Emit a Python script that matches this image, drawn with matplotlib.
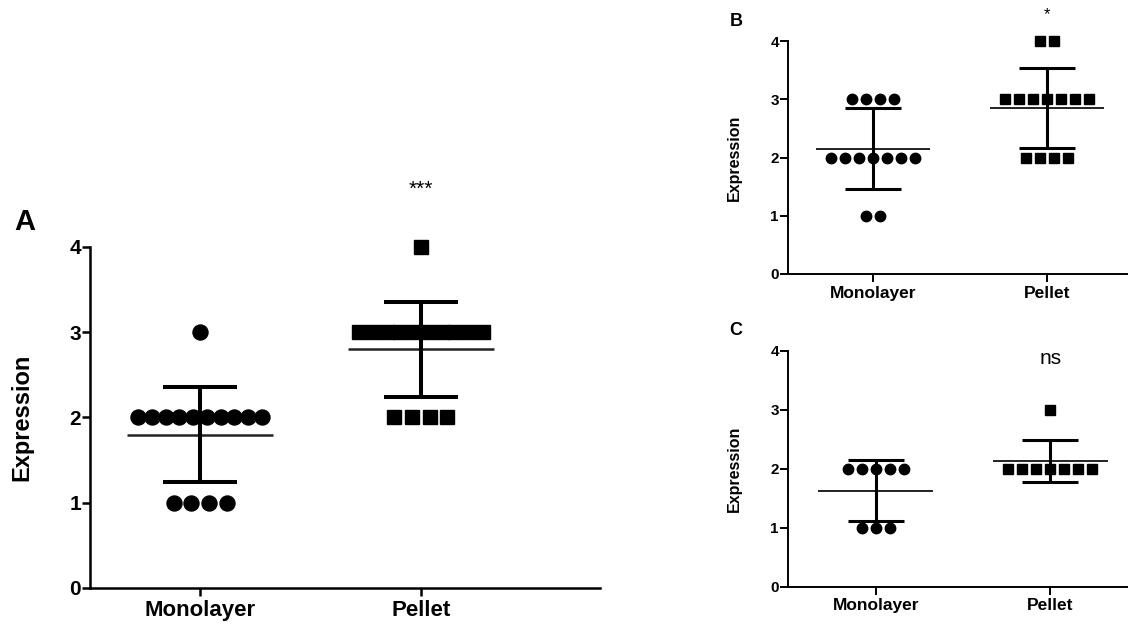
import numpy as np
import matplotlib.pyplot as plt

plt.rcParams['font.family'] = ['Liberation Sans', 'DejaVu Sans']

groups = ["Monolayer", "Pellet"]

# panel A: expression scores per sample
a_mono = [3] + [2] * 10 + [1] * 4
a_pellet = [4] + [3] * 10 + [2] * 4
# panel B
b_mono = [3] * 4 + [2] * 7 + [1] * 2
b_pellet = [4] * 2 + [3] * 7 + [2] * 4
# panel C
c_mono = [2] * 5 + [1] * 3
c_pellet = [3] + [2] * 7

sig_a = "***"
sig_b = "*"
sig_c = "ns"


def swarm(vals, step=0.08, maxw=0.56):
    # spread equal values sideways like a GraphPad scatter
    vals = np.asarray(vals, float)
    xs = np.zeros_like(vals)
    for v in np.unique(vals):
        idx = np.where(vals == v)[0]
        n = len(idx)
        st = step if n < 2 else min(step, maxw / (n - 1))
        xs[idx] = (np.arange(n) - (n - 1) / 2) * st
    return xs


def panel(ax, data, sig, sig_y, xlim, ms, capsize, elw, mlw, fs_num, fs_cat, fs_lab, spine_lw, lab_x):
    markers = ["o", "s"]
    sizes = [ms, ms * 0.93]
    for i, vals in enumerate(data):
        pos = i + 1
        vals = np.asarray(vals, float)
        ax.plot(pos + swarm(vals), vals, ls="none", marker=markers[i], ms=sizes[i],
                color="black", mec="black", clip_on=False, zorder=3)
        m = vals.mean()
        sd = vals.std(ddof=1)
        ax.hlines(m, pos - 0.33, pos + 0.33, color="#222222", lw=mlw, zorder=4)
        ax.errorbar(pos, m, yerr=sd, fmt="none", ecolor="black", elinewidth=elw,
                    capsize=capsize, capthick=elw, zorder=5)
    ax.text(2, sig_y, sig, ha="center", va="center", fontsize=fs_lab, clip_on=False)
    ax.set_xlim(*xlim)
    ax.set_ylim(0, 4)
    ax.set_xticks([1, 2])
    ax.set_xticklabels(groups, fontsize=fs_cat, fontweight="bold")
    ax.set_yticks([0, 1, 2, 3, 4])
    ax.set_yticklabels(["0", "1", "2", "3", "4"], fontsize=fs_num, fontweight="bold")
    ax.set_ylabel("Expression", fontsize=fs_lab, fontweight="bold")
    ax.yaxis.set_label_coords(lab_x, 0.5)
    for s in ["top", "right"]:
        ax.spines[s].set_visible(False)
    for s in ["left", "bottom"]:
        ax.spines[s].set_linewidth(spine_lw)
    ax.tick_params(axis="y", length=5.5, width=spine_lw, pad=1)
    ax.tick_params(axis="x", length=5.5, width=spine_lw, pad=3)


fig = plt.figure(figsize=(11.28, 6.28), dpi=100)

axA = fig.add_axes([0.0798, 0.0637, 0.452, 0.543])
panel(axA, [a_mono, a_pellet], sig_a, 4.68, (0.502, 2.81), 10.8, 26.5, 2.9, 1.8,
      15, 16, 17, 1.8, -0.112)
axA.texts[0].set_fontsize(15)
axA.texts[0].set_fontweight("normal")

axB = fig.add_axes([0.6986, 0.5637, 0.3005, 0.371])
panel(axB, [b_mono, b_pellet], sig_b, 4.45, (0.511, 2.46), 7.5, 20, 2.2, 1.4,
      11, 12.5, 11.5, 1.4, -0.135)
axB.texts[0].set_fontsize(12)
axB.texts[0].set_fontweight("normal")

axC = fig.add_axes([0.6986, 0.0658, 0.3005, 0.3758])
panel(axC, [c_mono, c_pellet], sig_c, 3.87, (0.497, 2.44), 7.5, 20, 2.2, 1.4,
      11, 12.5, 11.5, 1.4, -0.135)
axC.texts[0].set_fontsize(15)
axC.texts[0].set_fontweight("normal")

fig.text(0.022, 0.646, "A", fontsize=21, fontweight="bold", ha="center", va="center")
fig.text(0.6525, 0.965, "B", fontsize=13, fontweight="bold", ha="center", va="center")
fig.text(0.652, 0.473, "C", fontsize=13, fontweight="bold", ha="center", va="center")

fig.savefig("out.png", dpi=100)
